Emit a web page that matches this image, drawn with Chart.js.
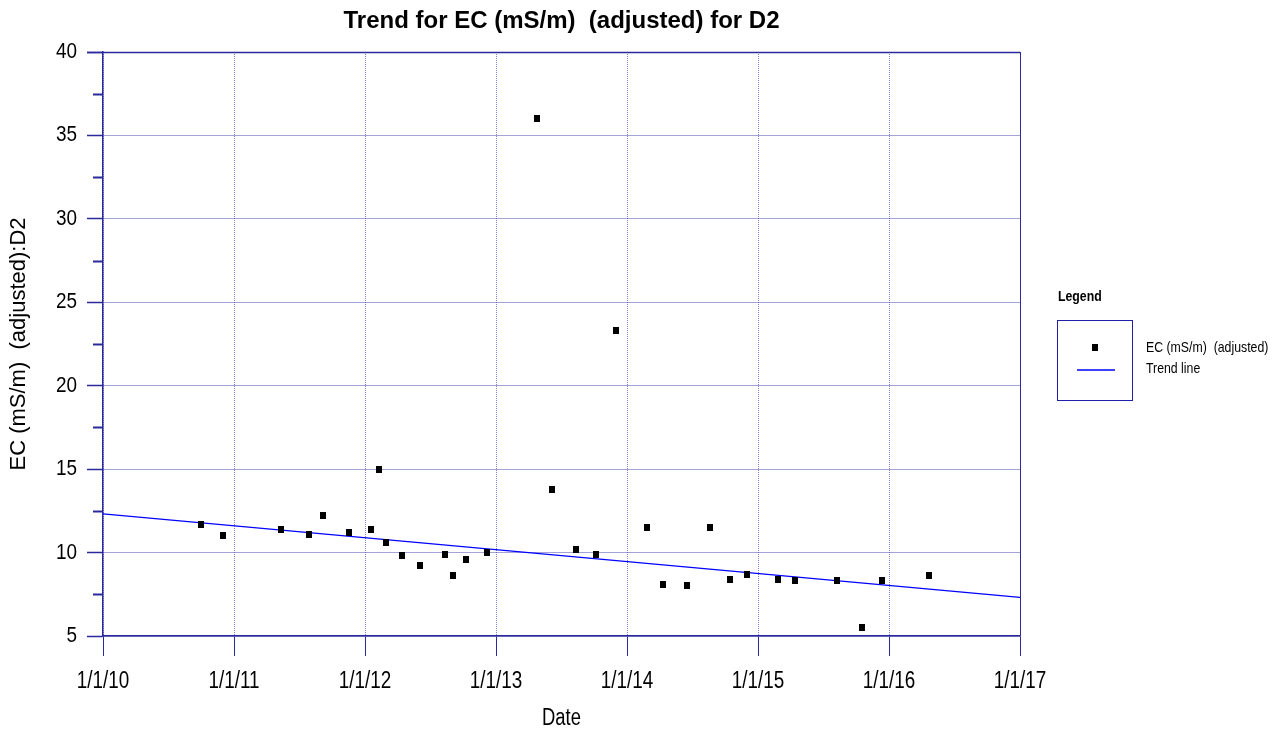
<!DOCTYPE html>
<html>
<head>
<meta charset="utf-8">
<title>Trend for EC (mS/m) (adjusted) for D2</title>
<script src="https://cdn.jsdelivr.net/npm/chart.js@4.4.1/dist/chart.umd.min.js"></script>
<style>
  html, body { margin: 0; padding: 0; background: #fff; }
  #trendChart { display: block; }
</style>
</head>
<body>
<canvas id="trendChart" width="1284" height="731"></canvas>
<script>
// Sample dates and EC readings (mS/m, adjusted) for site D2
const sampleDates = [
    '2010-09-30', '2010-12-01', '2011-05-11', '2011-07-28', '2011-09-06', '2011-11-17',
    '2012-01-19', '2012-02-10', '2012-03-01', '2012-04-14', '2012-06-02', '2012-08-11',
    '2012-09-04', '2012-10-10', '2012-12-08', '2013-04-25', '2013-06-06', '2013-08-13',
    '2013-10-08', '2013-12-02', '2014-02-26', '2014-04-10', '2014-06-17', '2014-08-19',
    '2014-10-14', '2014-12-01', '2015-02-26', '2015-04-13', '2015-08-10', '2015-10-19',
    '2015-12-13', '2016-04-22'
];
const ecValues = [
    11.7, 11.0, 11.4, 11.1, 12.2, 11.2,
    11.4, 15.0, 10.6, 9.8, 9.2, 9.9,
    8.6, 9.6, 10.0, 36.0, 13.8, 10.2,
    9.9, 23.3, 11.5, 8.1, 8.0, 11.5,
    8.4, 8.7, 8.4, 8.3, 8.3, 5.5,
    8.3, 8.6
];

// Fitted trend line end points
const trendDates = ['2010-01-01', '2017-01-01'];
const trendValues = [12.32, 7.32];

// Axis ticks
const yearTicks = [2010, 2011, 2012, 2013, 2014, 2015, 2016, 2017];
const yearLabels = ['1/1/10', '1/1/11', '1/1/12', '1/1/13', '1/1/14', '1/1/15', '1/1/16', '1/1/17'];
const ecTicks = [5, 10, 15, 20, 25, 30, 35, 40];
const ecMinorTicks = [7.5, 12.5, 17.5, 22.5, 27.5, 32.5, 37.5];

const SANS = '"Liberation Sans", Arial, sans-serif';
const AXIS_COLOR = '#2a2a9c';

// date string -> fractional year
function toYear(s) {
    const [y, m, d] = s.split('-').map(Number);
    const start = Date.UTC(y, 0, 1);
    const end = Date.UTC(y + 1, 0, 1);
    return y + (Date.UTC(y, m - 1, d) - start) / (end - start);
}

// no narrow face installed, so squeeze the regular one
function narrowText(ctx, text, x, y, font, squeeze, align) {
    ctx.save();
    ctx.translate(x, y);
    ctx.scale(squeeze, 1);
    ctx.font = font;
    ctx.textAlign = align;
    ctx.textBaseline = 'middle';
    ctx.fillStyle = '#000';
    ctx.fillText(text, 0, 0);
    ctx.restore();
}

// small black block used as the sample marker
const marker = document.createElement('canvas');
marker.width = 6;
marker.height = 7;
const mctx = marker.getContext('2d');
mctx.fillStyle = '#000';
mctx.fillRect(0, 0, 6, 7);

const samples = sampleDates.map((d, i) => ({ x: toYear(d), y: ecValues[i] }));
const trend = trendDates.map((d, i) => ({ x: toYear(d), y: trendValues[i] }));

// frame, minor ticks, tick labels, heading and legend box
const decorations = {
    id: 'decorations',
    afterDraw(chart) {
        const { ctx, chartArea: a, scales } = chart;
        const xScale = scales.x;
        const yScale = scales.y;
        ctx.save();

        // solid top and right edges
        ctx.strokeStyle = AXIS_COLOR;
        ctx.lineWidth = 1.5;
        ctx.beginPath();
        ctx.moveTo(a.left - 16, Math.round(a.top) + 0.5);
        ctx.lineTo(a.right, Math.round(a.top) + 0.5);
        ctx.stroke();
        ctx.lineWidth = 1;
        ctx.beginPath();
        ctx.moveTo(Math.round(a.right) + 0.5, a.top);
        ctx.lineTo(Math.round(a.right) + 0.5, a.bottom);
        ctx.stroke();

        // minor ticks on the value axis
        ctx.lineWidth = 2;
        ecMinorTicks.forEach(v => {
            const py = Math.round(yScale.getPixelForValue(v)) + 0.5;
            ctx.beginPath();
            ctx.moveTo(a.left - 10, py);
            ctx.lineTo(a.left, py);
            ctx.stroke();
        });

        // tick labels
        yearTicks.forEach((v, i) => {
            narrowText(ctx, yearLabels[i], xScale.getPixelForValue(v), 682, '23px ' + SANS, 0.82, 'center');
        });
        ecTicks.forEach(v => {
            narrowText(ctx, String(v), a.left - 26, yScale.getPixelForValue(v), '22px ' + SANS, 0.86, 'right');
        });
        narrowText(ctx, 'Date', (a.left + a.right) / 2, 719, '23px ' + SANS, 0.8, 'center');

        // heading
        ctx.fillStyle = '#000';
        ctx.font = 'bold 24px ' + SANS;
        ctx.textAlign = 'center';
        ctx.textBaseline = 'middle';
        ctx.fillText('Trend for EC (mS/m)  (adjusted) for D2', (a.left + a.right) / 2, 21);

        // legend
        narrowText(ctx, 'Legend', 1058, 297, 'bold 15px ' + SANS, 0.82, 'left');
        ctx.strokeStyle = '#2020a8';
        ctx.lineWidth = 1;
        ctx.strokeRect(1057.5, 320.5, 75, 80);
        ctx.drawImage(marker, 1092, 344);
        ctx.strokeStyle = '#0000ff';
        ctx.lineWidth = 1.3;
        ctx.beginPath();
        ctx.moveTo(1077, 370);
        ctx.lineTo(1115, 370);
        ctx.stroke();
        narrowText(ctx, 'EC (mS/m)  (adjusted)', 1146, 348, '15px ' + SANS, 0.82, 'left');
        narrowText(ctx, 'Trend line', 1146, 369, '15px ' + SANS, 0.82, 'left');

        ctx.restore();
    }
};

new Chart(document.getElementById('trendChart'), {
    type: 'scatter',
    data: {
        datasets: [
            {
                label: 'EC (mS/m)  (adjusted)',
                data: samples,
                pointStyle: marker,
                pointRadius: 4,
                showLine: false
            },
            {
                type: 'line',
                label: 'Trend line',
                data: trend,
                borderColor: '#0000ff',
                borderWidth: 1.3,
                pointRadius: 0,
                fill: false
            }
        ]
    },
    options: {
        responsive: false,
        animation: false,
        events: [],
        layout: { padding: { top: 52, right: 264, left: 0, bottom: 0 } },
        plugins: {
            legend: { display: false },
            title: { display: false },
            tooltip: { enabled: false }
        },
        scales: {
            x: {
                type: 'linear',
                min: 2010,
                max: 2017,
                afterFit: s => { s.height = 95; },
                afterBuildTicks: s => { s.ticks = yearTicks.map(v => ({ value: v })); },
                ticks: { display: false },
                grid: {
                    color: '#8282cc',
                    lineWidth: 1,
                    tickLength: 20,
                    tickColor: AXIS_COLOR,
                    tickWidth: 1
                },
                border: { display: true, color: AXIS_COLOR, width: 1.5, dash: [1, 1] }
            },
            y: {
                min: 5,
                max: 40,
                afterFit: s => { s.width = 103; },
                afterBuildTicks: s => { s.ticks = ecTicks.map(v => ({ value: v })); },
                ticks: { display: false },
                grid: {
                    color: '#4646ae',
                    lineWidth: 1,
                    tickLength: 16,
                    tickColor: AXIS_COLOR,
                    tickWidth: 1.5
                },
                border: { display: true, color: AXIS_COLOR, width: 1.5, dash: [1, 1] },
                title: {
                    display: true,
                    text: 'EC (mS/m)  (adjusted):D2',
                    color: '#000',
                    font: { family: SANS, size: 22 },
                    padding: { top: 6, bottom: 0 }
                }
            }
        }
    },
    plugins: [decorations]
});
</script>
</body>
</html>
